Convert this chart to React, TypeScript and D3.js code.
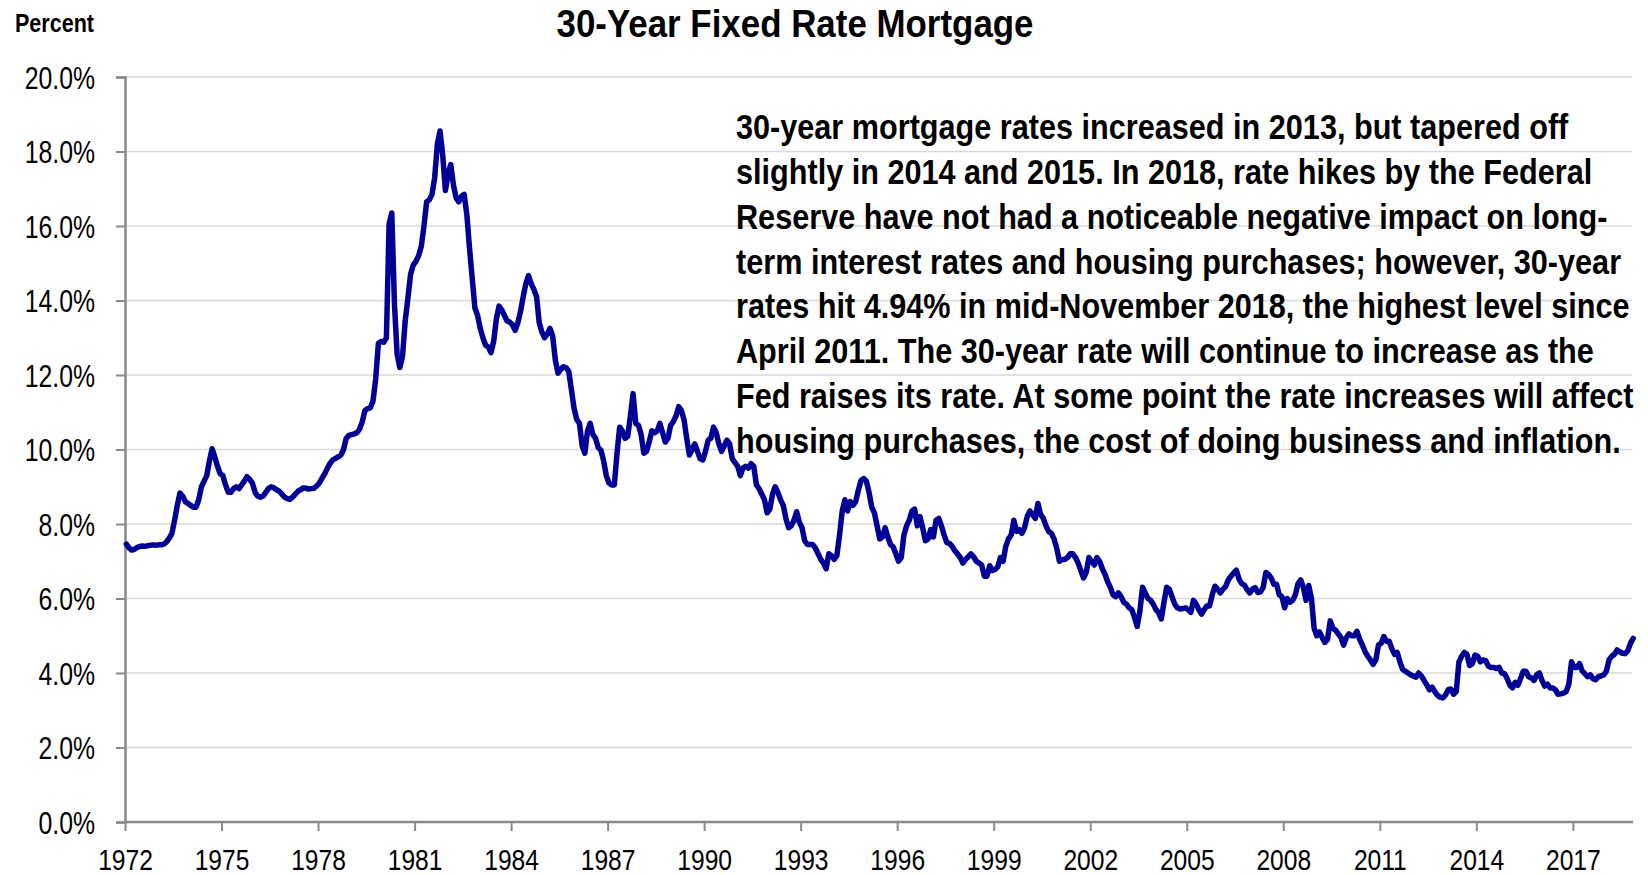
import React, { useEffect, useRef } from 'react'
import * as d3 from 'd3'

// Freddie Mac 30-year fixed rate, monthly, Jan 1972 - Nov 2018
const startYear = 1972

const rates1970s = [
  7.46, 7.36, 7.30, 7.32, 7.37, 7.40, 7.41, 7.40, 7.42, 7.43, 7.44, 7.43,
  7.44, 7.44, 7.46, 7.52, 7.62, 7.75, 8.10, 8.50, 8.83, 8.75, 8.60, 8.55,
  8.50, 8.45, 8.45, 8.65, 9.00, 9.15, 9.30, 9.70, 10.02, 9.80, 9.55, 9.35,
  9.30, 9.05, 8.85, 8.85, 8.95, 9.00, 8.95, 9.05, 9.15, 9.27, 9.20, 9.10,
  8.85, 8.75, 8.72, 8.75, 8.85, 8.95, 9.00, 8.97, 8.92, 8.88, 8.80, 8.72,
  8.68, 8.66, 8.72, 8.80, 8.88, 8.92, 8.97, 8.96, 8.94, 8.95, 8.96, 9.02,
  9.10, 9.23, 9.35, 9.50, 9.63, 9.72, 9.76, 9.80, 9.85, 10.00, 10.30, 10.38,
  10.40, 10.42, 10.45, 10.55, 10.75, 11.05, 11.10, 11.12, 11.30, 11.90, 12.85, 12.90,
]

const rates1980s = [
  12.88, 13.00, 16.05, 16.35, 13.90, 12.55, 12.20, 12.50, 13.45, 14.05, 14.70, 14.95,
  15.05, 15.20, 15.45, 16.00, 16.65, 16.70, 16.85, 17.30, 18.20, 18.55, 17.90, 16.95,
  17.40, 17.65, 17.10, 16.75, 16.65, 16.80, 16.85, 16.30, 15.40, 14.60, 13.80, 13.60,
  13.25, 13.00, 12.80, 12.75, 12.60, 12.90, 13.50, 13.85, 13.75, 13.60, 13.45, 13.42,
  13.35, 13.20, 13.40, 13.70, 14.10, 14.45, 14.67, 14.45, 14.30, 14.10, 13.40, 13.15,
  13.00, 13.10, 13.25, 13.05, 12.40, 12.05, 12.15, 12.22, 12.20, 12.10, 11.60, 11.10,
  10.80, 10.70, 10.10, 9.90, 10.50, 10.70, 10.40, 10.30, 10.05, 9.98, 9.70, 9.30,
  9.10, 9.05, 9.05, 9.90, 10.60, 10.50, 10.30, 10.35, 10.90, 11.50, 10.70, 10.65,
  10.40, 9.90, 9.95, 10.20, 10.50, 10.45, 10.50, 10.70, 10.45, 10.20, 10.30, 10.65,
  10.75, 10.90, 11.15, 11.05, 10.80, 10.30, 9.85, 10.00, 10.15, 9.95, 9.75, 9.72,
]

const rates1990s = [
  9.95, 10.25, 10.30, 10.60, 10.45, 10.15, 9.95, 10.10, 10.25, 10.15, 9.75, 9.65,
  9.55, 9.30, 9.50, 9.55, 9.50, 9.62, 9.55, 9.05, 8.95, 8.80, 8.65, 8.30,
  8.40, 8.80, 9.00, 8.85, 8.65, 8.50, 8.15, 7.90, 7.95, 8.10, 8.33, 8.05,
  7.90, 7.55, 7.45, 7.45, 7.45, 7.35, 7.20, 7.05, 6.95, 6.80, 7.20, 7.15,
  7.05, 7.15, 7.70, 8.35, 8.65, 8.35, 8.60, 8.50, 8.60, 8.90, 9.17, 9.22,
  9.15, 8.85, 8.45, 8.30, 7.95, 7.60, 7.65, 7.90, 7.65, 7.45, 7.38, 7.20,
  7.00, 7.10, 7.70, 7.95, 8.10, 8.35, 8.40, 7.95, 8.20, 7.90, 7.55, 7.60,
  7.85, 7.65, 8.10, 8.15, 7.95, 7.70, 7.50, 7.48, 7.40, 7.28, 7.20, 7.10,
  6.95, 7.05, 7.12, 7.20, 7.12, 7.00, 6.95, 6.90, 6.60, 6.60, 6.88, 6.75,
  6.78, 6.85, 7.10, 7.00, 7.40, 7.60, 7.70, 8.10, 7.80, 7.85, 7.75, 7.90,
]

const rates2000s = [
  8.20, 8.35, 8.25, 8.15, 8.55, 8.25, 8.15, 7.95, 7.80, 7.75, 7.60, 7.35,
  7.00, 7.05, 7.05, 7.10, 7.20, 7.20, 7.10, 6.95, 6.75, 6.55, 6.70, 7.10,
  7.00, 6.90, 7.10, 7.00, 6.80, 6.65, 6.45, 6.30, 6.10, 6.05, 6.15, 6.05,
  5.90, 5.85, 5.75, 5.70, 5.50, 5.25, 5.65, 6.30, 6.15, 6.00, 5.95, 5.85,
  5.70, 5.62, 5.45, 5.90, 6.30, 6.25, 6.05, 5.85, 5.75, 5.72, 5.73, 5.75,
  5.70, 5.63, 5.95, 5.85, 5.70, 5.58, 5.70, 5.80, 5.80, 6.10, 6.33, 6.25,
  6.15, 6.25, 6.32, 6.50, 6.60, 6.68, 6.76, 6.52, 6.40, 6.36, 6.24, 6.15,
  6.25, 6.29, 6.16, 6.18, 6.30, 6.70, 6.65, 6.55, 6.38, 6.38, 6.10, 6.05,
  5.75, 6.00, 5.90, 5.95, 6.10, 6.40, 6.50, 6.30, 5.95, 6.35, 6.00, 5.20,
  5.00, 5.10, 4.95, 4.82, 4.90, 5.40, 5.20, 5.15, 5.05, 4.95, 4.75, 4.95,
]

const rates2010s = [
  5.05, 5.00, 5.00, 5.12, 4.90, 4.75, 4.57, 4.45, 4.35, 4.23, 4.35, 4.75,
  4.80, 4.98, 4.85, 4.85, 4.65, 4.50, 4.55, 4.30, 4.10, 4.05, 4.00, 3.95,
  3.92, 3.89, 4.00, 3.92, 3.80, 3.68, 3.55, 3.62, 3.50, 3.40, 3.35, 3.33,
  3.41, 3.55, 3.57, 3.43, 3.50, 4.30, 4.45, 4.55, 4.50, 4.20, 4.25, 4.48,
  4.45, 4.30, 4.35, 4.33, 4.18, 4.15, 4.15, 4.12, 4.15, 4.00, 3.98, 3.85,
  3.67, 3.60, 3.75, 3.67, 3.85, 4.05, 4.05, 3.90, 3.87, 3.80, 3.95, 4.00,
  3.80, 3.65, 3.70, 3.60, 3.60, 3.55, 3.43, 3.44, 3.46, 3.50, 3.70, 4.30,
  4.15, 4.15, 4.25, 4.05, 3.98, 3.90, 3.95, 3.85, 3.82, 3.90, 3.92, 3.95,
  4.05, 4.35, 4.45, 4.50, 4.62, 4.57, 4.53, 4.52, 4.60, 4.80, 4.93,
]

const yearTicks = [1972, 1975, 1978, 1981, 1984, 1987, 1990, 1993, 1996, 1999, 2002, 2005, 2008, 2011, 2014, 2017]
const percentTicks = [0, 2, 4, 6, 8, 10, 12, 14, 16, 18, 20]

const title = '30-Year Fixed Rate Mortgage'
const noteLines = [
  '30-year mortgage rates increased in 2013, but tapered off',
  'slightly in 2014 and 2015. In 2018, rate hikes by the Federal',
  'Reserve have not had a noticeable negative impact on long-',
  'term interest rates and housing purchases; however, 30-year',
  'rates hit 4.94% in mid-November 2018, the highest level since',
  'April 2011. The 30-year rate will continue to increase as the',
  'Fed raises its rate. At some point the rate increases will affect',
  'housing purchases, the cost of doing business and inflation.',
]

const width = 1648
const height = 875
const font = "'Liberation Sans', Arial, Helvetica, sans-serif"

// squeeze text horizontally to imitate Arial Narrow
function narrow(sel, ratio) {
  sel.each(function () {
    const w = this.getComputedTextLength()
    this.setAttribute('textLength', w * ratio)
    this.setAttribute('lengthAdjust', 'spacingAndGlyphs')
  })
}

export default function App() {
  const ref = useRef(null)

  useEffect(() => {
    const svg = d3.select(ref.current)
    svg.selectAll('*').remove()

    const rates = [...rates1970s, ...rates1980s, ...rates1990s, ...rates2000s, ...rates2010s]
    const data = rates.map((v, i) => ({ t: startYear + (i + 0.5) / 12, v }))

    const x = d3.scaleLinear().domain([1972, 2018.9]).range([125, 1634])
    const y = d3.scaleLinear().domain([0, 20]).range([822, 77])

    // gridlines
    svg.append('g')
      .selectAll('line')
      .data(percentTicks.filter(d => d > 0))
      .join('line')
      .attr('x1', x(1972)).attr('x2', 1632)
      .attr('y1', d => y(d)).attr('y2', d => y(d))
      .attr('stroke', '#d9d9d9').attr('stroke-width', 1.6)

    // y axis
    const yAxis = svg.append('g')
      .attr('transform', `translate(${x(1972)},0)`)
      .call(d3.axisLeft(y).tickValues(percentTicks).tickFormat(d => d.toFixed(1) + '%').tickSize(9).tickPadding(21))
    yAxis.select('.domain').attr('stroke', '#898989').attr('stroke-width', 2.5)
    yAxis.selectAll('.tick line').attr('stroke', '#898989').attr('stroke-width', 2)
    yAxis.selectAll('.tick text')
      .attr('font-family', font).attr('font-size', 31).attr('fill', '#000').attr('dy', '0.36em')
      .call(narrow, 0.8)

    // x axis
    const xAxis = svg.append('g')
      .attr('transform', `translate(0,${y(0)})`)
      .call(d3.axisBottom(x).tickValues(yearTicks).tickFormat(d3.format('d')).tickSize(9).tickPadding(18))
    xAxis.select('.domain').attr('stroke', '#898989').attr('stroke-width', 2.5).attr('d', `M${x(1972)},0H1633`)
    xAxis.selectAll('.tick line').attr('stroke', '#898989').attr('stroke-width', 2)
    xAxis.selectAll('.tick text')
      .attr('font-family', font).attr('font-size', 30).attr('fill', '#000')
      .call(narrow, 0.82)

    // the series
    const line = d3.line().x(d => x(d.t)).y(d => y(d.v))
    svg.append('path')
      .datum(data)
      .attr('d', line)
      .attr('fill', 'none')
      .attr('stroke', '#000096')
      .attr('stroke-width', 5.5)
      .attr('stroke-linejoin', 'round')
      .attr('stroke-linecap', 'round')

    // labels
    svg.append('text')
      .attr('x', 15).attr('y', 32)
      .attr('font-family', font).attr('font-weight', 'bold').attr('font-size', 25)
      .attr('textLength', 79).attr('lengthAdjust', 'spacingAndGlyphs')
      .text('Percent')

    svg.append('text')
      .attr('x', 795).attr('y', 37)
      .attr('text-anchor', 'middle')
      .attr('font-family', font).attr('font-weight', 'bold').attr('font-size', 39)
      .attr('textLength', 477).attr('lengthAdjust', 'spacingAndGlyphs')
      .text(title)

    svg.append('g')
      .selectAll('text')
      .data(noteLines)
      .join('text')
      .attr('x', 736)
      .attr('y', (d, i) => 139 + i * 44.85)
      .attr('font-family', font).attr('font-weight', 'bold').attr('font-size', 35)
      .text(d => d)
      .call(narrow, 0.875)
  }, [])

  return (
    <svg ref={ref} width={width} height={height}
      style={{ position: 'absolute', left: 0, top: 0, background: '#fff' }} />
  )
}
